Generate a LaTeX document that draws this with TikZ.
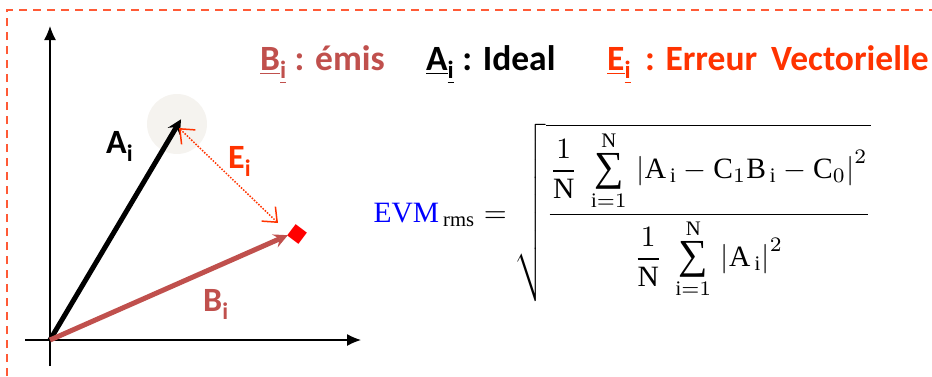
\documentclass[tikz,border=0pt]{standalone}
\usepackage{amsmath}
\usepackage{fontspec}
\setmainfont{Liberation Serif}
\newfontfamily\calib{Carlito}
\usetikzlibrary{positioning,arrows.meta,shapes.geometric}
\definecolor{VecRed}{HTML}{C0504D}
\definecolor{ErrRed}{HTML}{FF3300}
\definecolor{FrameRed}{HTML}{FF5A36}
\definecolor{EvmBlue}{HTML}{0000FF}
\definecolor{HaloGray}{HTML}{F5F3EF}
\newcommand{\bsum}{\mathop{\vcenter{\hbox{\fontsize{14}{14}\selectfont ∑}}}\limits}

\begin{document}
\begin{tikzpicture}[x=1pt,y=-1pt,>=stealth]
  \tikzstyle{lbl}=[inner sep=0pt,anchor=base west,
    font=\calib\bfseries\fontsize{34}{36}\selectfont]
  \tikzstyle{leg}=[lbl,font=\calib\bfseries\fontsize{35.5}{38}\selectfont]
  \tikzstyle{vec}=[line width=5pt,->,shorten >=-2pt]
  \useasboundingbox (0,0) rectangle (932,376);
  \draw[FrameRed,line width=1.4pt,dash pattern=on 8pt off 6pt]
    (7,376)--(7,10)--(932,10);
  % axes
  \coordinate (orig) at (50,340);
  \coordinate (ytop) at (50,26);
  \coordinate (ybot) at (50,366);
  \coordinate (xleft) at (25,340);
  \coordinate (xright) at (361,340);
  \draw[line width=1.2pt,-{Latex[length=14pt,width=12pt]}] (ybot)--(ytop);
  \draw[line width=1.2pt,-{Latex[length=14pt,width=12pt]}] (xleft)--(xright);
  % vectors
  \fill[HaloGray] (177,124) circle (30);
  \coordinate (tipA) at (180,121);
  \coordinate (tipB) at (286,236);
  \node[diamond,fill=red,minimum size=20pt,inner sep=0pt,rotate=8] (diam) at (297,234) {};
  \draw[vec] (orig)--(tipA);
  \draw[vec,VecRed] (orig)--(tipB);
  \coordinate (errA) at (179,128);
  \coordinate (errB) at (278,223);
  \draw[ErrRed,line width=1.5pt,dash pattern=on 1.5pt off 1.5pt,
    {Straight Barb[length=12pt,width=20pt,line width=1.5pt]}-{Straight Barb[length=12pt,width=20pt,line width=1.5pt]}]
    (errA)--(errB);
  % labels
  \node[lbl] (labA) at (106,153) {A\textsubscript{i}};
  \node[lbl,text=ErrRed] (labE) at (228,168) {E\textsubscript{i}};
  \node[lbl,text=VecRed] (labB) at (203,311) {B\textsubscript{i}};
  % legend
  \node[leg,text=VecRed] (legB) at (260,70) {\underline{B}\textsubscript{\underline{i}} : émis};
  \node[leg] (legA) at (426,70) {\underline{A}\textsubscript{\underline{i}} : Ideal};
  \node[leg,text=ErrRed] (legE) at (607,70) {\underline{E}\textsubscript{\underline{i}}\, : Erreur\, Vectorielle};
  % formula
  \node[inner sep=0pt,anchor=base west,font=\fontsize{10}{12}\selectfont,scale=2.95,transform shape] (evm) at (373,222)
    {$\textcolor{EvmBlue}{\mathrm{EVM}}_{\,\mathrm{rms}} = \sqrt{\dfrac{\dfrac{1}{\mathrm{N}}\;\bsum_{\mathrm{i}=1}^{\mathrm{N}}\,\left|\mathrm{A}_{\,\mathrm{i}}-\mathrm{C}_{1}\mathrm{B}_{\,\mathrm{i}}-\mathrm{C}_{0}\right|^{2}}{\dfrac{1}{\mathrm{N}}\;\bsum_{\mathrm{i}=1}^{\mathrm{N}}\,\left|\mathrm{A}_{\,\mathrm{i}}\right|^{2}}}$};
\end{tikzpicture}
\end{document}
